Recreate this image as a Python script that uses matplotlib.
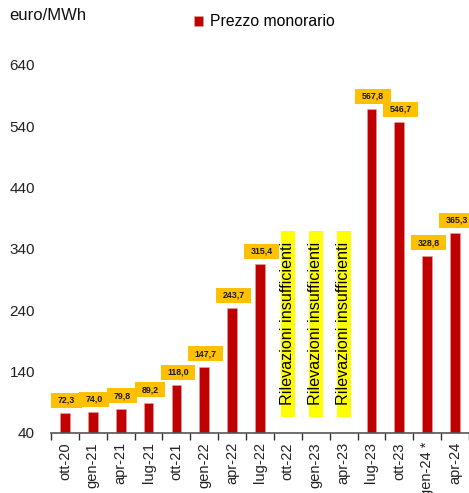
import matplotlib
matplotlib.use("Agg")
import matplotlib.pyplot as plt
from matplotlib.path import Path
import numpy as np

plt.rcParams['font.family'] = ['Liberation Sans', 'DejaVu Sans']

categories = ["ott-20", "gen-21", "apr-21", "lug-21", "ott-21", "gen-22", "apr-22",
              "lug-22", "ott-22", "gen-23", "apr-23", "lug-23", "ott-23", "gen-24 *", "apr-24"]
values = [72.3, 74.0, 79.8, 89.2, 118.0, 147.7, 243.7, 315.4,
          None, None, None, 567.8, 546.7, 328.8, 365.3]
missing_text = "Rilevazioni insufficienti"
missing_label_y = 218
yticks = [40, 140, 240, 340, 440, 540, 640]
series_name = "Prezzo monorario"
unit = "euro/MWh"


def make_box(pad_long, pad_short):
    def box(x0, y0, w, h, mutation_size):
        xa, xb = x0 - pad_long, x0 + w + pad_long
        ya, yb = y0 - pad_short, y0 + h + pad_short
        return Path([(xa, ya), (xb, ya), (xb, yb), (xa, yb), (xa, ya)], closed=True)
    return box


fig = plt.figure(figsize=(4.69, 4.93), dpi=100)
ax = fig.add_axes([51 / 469, 1 - 433 / 493, 418 / 469, (433 - 65) / 493])

x = np.arange(len(categories))
bar_color = "#C00000"
for i, v in enumerate(values):
    if v is None:
        ax.text(i, missing_label_y, missing_text, rotation=90, ha='center', va='center',
                fontsize=11.6, color='black',
                bbox=dict(boxstyle=make_box(11.5, -0.5), fc='#FFFF00', ec='none'))
    else:
        ax.bar(i, v - 40, bottom=40, width=0.35, color=bar_color,
               edgecolor='#E8A0A0', linewidth=0.4,
               label=series_name if i == 0 else None)
        ax.annotate(f"{v:.1f}".replace('.', ','), (i, v), xytext=(1.5, 13),
                    textcoords='offset pixels', ha='center', va='center',
                    fontsize=6.4, fontweight='bold', color='#1a1a1a',
                    bbox=dict(boxstyle=make_box(6.5, 3.0), fc='#FFC000', ec='none'))

ax.set_xlim(-0.5, len(categories) - 0.5)
ax.set_ylim(40, 640)
ax.set_yticks(yticks)
ax.set_yticklabels([str(t) for t in yticks], fontsize=11, color='#222222')
ax.tick_params(axis='y', length=0, pad=11.5)
ax.set_xticks(x)
ax.set_xticklabels(categories, rotation=90, fontsize=10.5, color='#222222')
ax.set_xticks(np.arange(len(categories) + 1) - 0.5, minor=True)
ax.tick_params(axis='x', which='major', length=0, pad=6.5)
ax.tick_params(axis='x', which='minor', length=5, width=1, color='#333333', direction='out')

for s in ['top', 'right', 'left']:
    ax.spines[s].set_visible(False)
ax.spines['bottom'].set_color('#555555')
ax.spines['bottom'].set_linewidth(1.2)

fig.text(9 / 469, 1 - 16 / 493, unit, fontsize=12, va='center', ha='left', color='#111111')
leg = fig.legend(loc='center left', bbox_to_anchor=(194 / 469, 1 - 22 / 493), frameon=False,
                 fontsize=11.3, handlelength=0.6, handleheight=0.6, handletextpad=0.4,
                 borderaxespad=0, borderpad=0)

fig.savefig("out.png", dpi=100)
